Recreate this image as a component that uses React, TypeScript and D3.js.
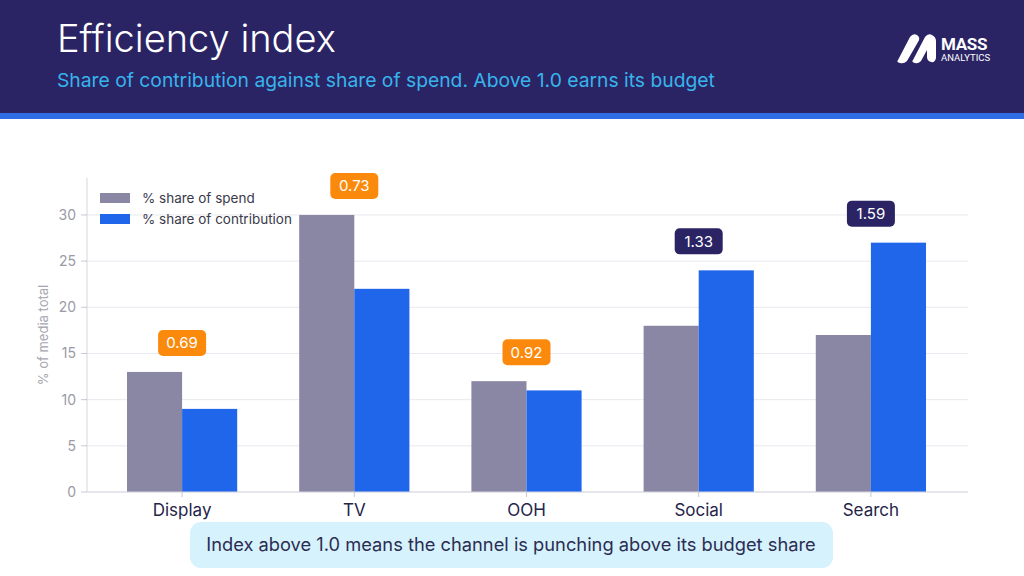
import * as d3 from "d3"

const categories = ["Display", "TV", "OOH", "Social", "Search"]
const spendShare = [13, 30, 12, 18, 17]
const contributionShare = [9, 22, 11, 24, 27]
const efficiencyIndex = ["0.69", "0.73", "0.92", "1.33", "1.59"]
const yTicks = [0, 5, 10, 15, 20, 25, 30]
const seriesNames = ["% share of spend", "% share of contribution"]

const W = 1024
const H = 576
const FONT = "Inter, 'Open Sans', sans-serif"
const NARROW = "'Liberation Sans Narrow', Roboto, sans-serif"

const NAVY = "#2a2464"
const SPEND = "#8a87a5"
const CONTRIB = "#1f66eb"
const ORANGE = "#fb8a0c"

export default function App() {
  const plot = { left: 87, right: 968, top: 178, bottom: 492 }

  const x = d3
    .scaleBand<string>()
    .domain(categories)
    .range([96, 957])
    .paddingInner(0.36)
    .paddingOuter(0.18)

  const sub = d3.scaleBand<number>().domain([0, 1]).range([0, x.bandwidth()])

  const y = d3.scaleLinear().domain([0, 34]).range([plot.bottom, plot.top])

  const series = [spendShare, contributionShare]
  const colors = [SPEND, CONTRIB]

  return (
    <svg
      width={W}
      height={H}
      style={{ position: "absolute", left: 0, top: 0, background: "#fff", fontFamily: FONT }}
    >
      {/* header */}
      <rect x={0} y={0} width={W} height={114} fill={NAVY} />
      <rect x={0} y={113} width={W} height={6} fill="#2f6fe6" />
      <text x={57} y={52} fill="#fff" fontSize={38} fontWeight={300}>
        Efficiency index
      </text>
      <text x={57} y={87} fill="#38b4ec" fontSize={19.3} fontWeight={400}>
        Share of contribution against share of spend. Above 1.0 earns its budget
      </text>

      {/* logo */}
      <g fill="#fff">
        <path d="M898,60 L910,37 Q913,33 917,35 Q921,38 918,42 L907,61 Q904,64 900,63 Q896,62 898,60 Z" />
        <path d="M913,60 L925,37 Q928,33 932,35 Q936,37 936,41 L936,58 Q935,63 931,62 Q927,61 927,57 L927,50 L921,61 Q918,64 915,63 Q911,62 913,60 Z" />
        <text x={941} y={50} fontSize={17} fontWeight={700} fontFamily={NARROW} letterSpacing={-0.3}>
          MASS
        </text>
        <text x={941} y={61} fontSize={9.5} fontWeight={400} fontFamily={NARROW}>
          ANALYTICS
        </text>
      </g>

      {/* grid */}
      {yTicks.map((t) => (
        <line key={t} x1={plot.left} x2={plot.right} y1={y(t)} y2={y(t)} stroke="#e9e9ef" strokeWidth={1} />
      ))}

      {/* bars */}
      {categories.map((c, i) =>
        series.map((s, k) => (
          <rect
            key={c + k}
            x={(x(c) ?? 0) + (sub(k) ?? 0)}
            y={y(s[i])}
            width={sub.bandwidth()}
            height={y(0) - y(s[i])}
            fill={colors[k]}
          />
        )),
      )}

      {/* axes */}
      <line x1={plot.left} x2={plot.left} y1={plot.top} y2={plot.bottom} stroke="#d5d5df" />
      <line x1={plot.left} x2={plot.right} y1={plot.bottom} y2={plot.bottom} stroke="#d5d5df" />
      {yTicks.map((t) => (
        <g key={t}>
          <line x1={plot.left - 6} x2={plot.left} y1={y(t)} y2={y(t)} stroke="#c8c8d2" />
          <text x={plot.left - 11} y={y(t)} dy="0.35em" textAnchor="end" fontSize={14} fill="#9a9aa6">
            {t}
          </text>
        </g>
      ))}
      {categories.map((c) => {
        const cx = (x(c) ?? 0) + x.bandwidth() / 2
        return (
          <g key={c}>
            <line x1={cx} x2={cx} y1={plot.bottom} y2={plot.bottom + 5} stroke="#c8c8d2" />
            <text x={cx} y={516} textAnchor="middle" fontSize={17} fill="#24244a">
              {c}
            </text>
          </g>
        )
      })}
      <text
        transform={`translate(48,${(plot.top + plot.bottom) / 2}) rotate(-90)`}
        textAnchor="middle"
        fontSize={13}
        fill="#a5a5b0"
      >
        % of media total
      </text>

      {/* index badges */}
      {categories.map((c, i) => {
        const cx = (x(c) ?? 0) + x.bandwidth() / 2
        const top = y(Math.max(spendShare[i], contributionShare[i]))
        const cy = top - 29
        const above = parseFloat(efficiencyIndex[i]) >= 1
        return (
          <g key={c}>
            <rect x={cx - 24} y={cy - 13} width={48} height={26} rx={5} fill={above ? NAVY : ORANGE} />
            <text x={cx} y={cy} dy="0.36em" textAnchor="middle" fontSize={15} fill="#fff">
              {efficiencyIndex[i]}
            </text>
          </g>
        )
      })}

      {/* legend */}
      {seriesNames.map((n, k) => (
        <g key={n} transform={`translate(100,${193 + k * 21})`}>
          <rect x={0} y={0} width={30} height={10} fill={colors[k]} />
          <text x={42} y={5} dy="0.35em" fontSize={13.5} fill="#3a3a4a">
            {n}
          </text>
        </g>
      ))}

      {/* footnote */}
      <rect x={190} y={522} width={643} height={46} rx={11} fill="#d5f2fd" />
      <text x={511} y={545} dy="0.35em" textAnchor="middle" fontSize={18.3} fill="#2c2c52">
        Index above 1.0 means the channel is punching above its budget share
      </text>
    </svg>
  )
}
